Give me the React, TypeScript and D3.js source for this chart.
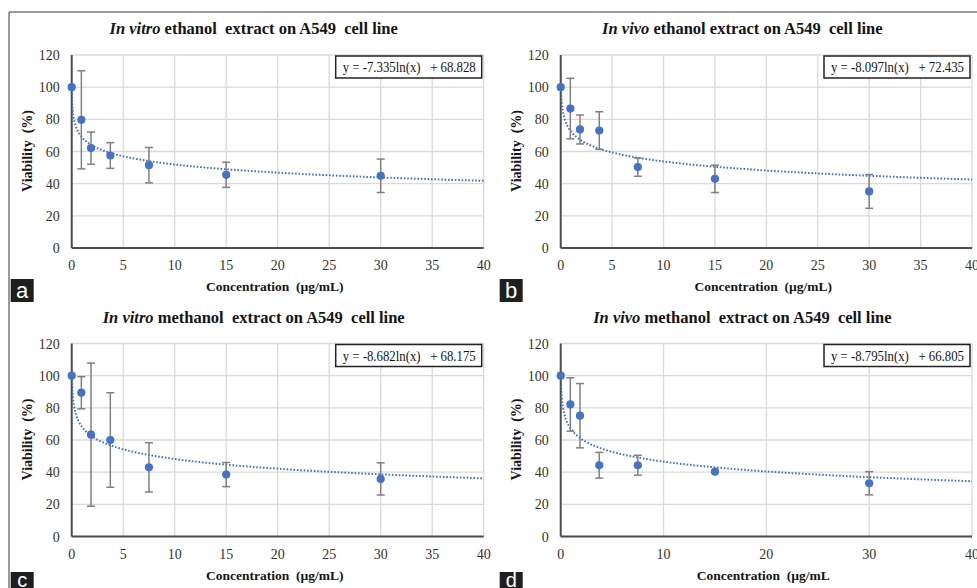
import { useMemo } from "react";
import * as d3 from "d3";

// concentrations (µg/mL) shared by all four assays
const concentrations = [0, 0.9375, 1.875, 3.75, 7.5, 15, 30];

const vitroEthanolMean = [100, 79.7, 62.1, 57.5, 51.5, 45.5, 44.9];
const vitroEthanolErr = [0, 30.5, 10, 8, 11, 7.8, 10.4];

const vivoEthanolMean = [100, 86.7, 73.7, 73, 50.3, 43, 35.2];
const vivoEthanolErr = [0, 18.8, 9, 11.7, 5.7, 8.5, 10.5];

const vitroMethanolMean = [100, 89.4, 63.3, 60, 43, 38.5, 35.8];
const vitroMethanolErr = [0, 10, 44.5, 29.4, 15.3, 7.5, 10];

const vivoMethanolMean = [100, 82.1, 75.1, 44.3, 44.3, 40.3, 33.1];
const vivoMethanolErr = [0, 16.6, 20, 8, 6.2, 0, 7.2];

// log trendline coefficients y = a ln(x) + b, as printed on each chart
const trendA = [-7.335, -8.097, -8.682, -8.795];
const trendB = [68.828, 72.435, 68.175, 66.805];
const trendLabels = [
  "y = -7.335ln(x)   + 68.828",
  "y = -8.097ln(x)   + 72.435",
  "y = -8.682ln(x)   + 68.175",
  "y = -8.795ln(x)   + 66.805",
];

const titleItalic = ["In vitro", "In vivo", "In vitro", "In vivo"];
const titleRest = [
  " ethanol  extract on A549  cell line",
  " ethanol extract on A549  cell line",
  " methanol  extract on A549  cell line",
  " methanol  extract on A549  cell line",
];
const xLabels = [
  "Concentration  (µg/mL)",
  "Concentration  (µg/mL)",
  "Concentration  (µg/mL)",
  "Concentration  (µg/mL",
];
const panelLetters = ["a", "b", "c", "d"];

const xTicksFine = [0, 5, 10, 15, 20, 25, 30, 35, 40];
const xTicksCoarse = [0, 10, 20, 30, 40];
const yTicks = [0, 20, 40, 60, 80, 100, 120];

const BLUE = "#4472C4";
const SERIF = "'Liberation Serif', 'Times New Roman', serif";

const Panel = ({ id, left, top, width, height, means, errs, xTicks, letterTop }) => {
  const xScale = d3.scaleLinear().domain([0, 40]).range([left, left + width]);
  const yScale = d3.scaleLinear().domain([0, 120]).range([top + height, top]);

  const trendPath = useMemo(() => {
    const xs = d3.range(0, 401).map((i) => 0.01 * Math.pow(4000, i / 400));
    return d3
      .line()
      .x((d) => xScale(d))
      .y((d) => yScale(trendA[id] * Math.log(d) + trendB[id]))(xs);
  }, [id, left, top]);

  const points = concentrations.map((c, i) => ({ x: c, y: means[i], e: errs[i] }));
  const clipId = `clip-${id}`;

  return (
    <g>
      <clipPath id={clipId}>
        <rect x={left} y={top - 2} width={width + 2} height={height + 2} />
      </clipPath>
      {/* title */}
      <text
        x={left + width / 2 - 24}
        y={top - 21}
        textAnchor="middle"
        fontFamily={SERIF}
        fontWeight="bold"
        fontSize={16.5}
        fill="#151515"
        style={{ whiteSpace: "pre" }}
      >
        <tspan fontStyle="italic">{titleItalic[id]}</tspan>
        {titleRest[id]}
      </text>
      {/* grid */}
      {yTicks.map((t) => (
        <line key={`gy${t}`} x1={left} x2={left + width} y1={yScale(t)} y2={yScale(t)} stroke="#dadada" strokeWidth={1.3} />
      ))}
      {xTicks.map((t) => (
        <line key={`gx${t}`} x1={xScale(t)} x2={xScale(t)} y1={top} y2={top + height} stroke="#dadada" strokeWidth={1.3} />
      ))}
      {/* axes */}
      <line x1={left} x2={left} y1={top} y2={top + height} stroke="#4d4d4d" strokeWidth={2} />
      <line x1={left} x2={left + width} y1={top + height} y2={top + height} stroke="#4d4d4d" strokeWidth={2} />
      {yTicks.map((t) => (
        <text key={`ty${t}`} x={left - 12} y={yScale(t) + 5} textAnchor="end" fontFamily={SERIF} fontSize={14} fill="#333">
          {t}
        </text>
      ))}
      {xTicks.map((t) => (
        <text key={`tx${t}`} x={xScale(t)} y={top + height + 22} textAnchor="middle" fontFamily={SERIF} fontSize={14} fill="#333">
          {t}
        </text>
      ))}
      <text
        x={left + width / 2 - 3}
        y={top + height + 43}
        textAnchor="middle"
        fontFamily={SERIF}
        fontWeight="bold"
        fontSize={13.5}
        fill="#151515"
        style={{ whiteSpace: "pre" }}
      >
        {xLabels[id]}
      </text>
      <text
        transform={`translate(${left - 40},${top + 96}) rotate(-90)`}
        textAnchor="middle"
        fontFamily={SERIF}
        fontWeight="bold"
        fontSize={14}
        fill="#151515"
        style={{ whiteSpace: "pre" }}
      >
        {"Viability  (%)"}
      </text>
      {/* trendline */}
      <path d={trendPath} fill="none" stroke={BLUE} strokeWidth={2} strokeDasharray="1.6 1.8" clipPath={`url(#${clipId})`} />
      {/* error bars */}
      {points
        .filter((p) => p.e > 0)
        .map((p, i) => (
          <g key={`e${i}`} stroke="#808080" strokeWidth={1.5}>
            <line x1={xScale(p.x)} x2={xScale(p.x)} y1={yScale(p.y + p.e)} y2={yScale(p.y - p.e)} />
            <line x1={xScale(p.x) - 4} x2={xScale(p.x) + 4} y1={yScale(p.y + p.e)} y2={yScale(p.y + p.e)} />
            <line x1={xScale(p.x) - 4} x2={xScale(p.x) + 4} y1={yScale(p.y - p.e)} y2={yScale(p.y - p.e)} />
          </g>
        ))}
      {/* points */}
      {points.map((p, i) => (
        <circle key={`p${i}`} cx={xScale(p.x)} cy={yScale(p.y)} r={4.1} fill={BLUE} />
      ))}
      {/* equation box */}
      <rect x={left + width - 148} y={top + 1} width={146} height={22} fill="#fff" stroke="#222" strokeWidth={1.5} />
      <text
        x={left + width - 141}
        y={top + 17}
        textLength={133}
        lengthAdjust="spacingAndGlyphs"
        fontFamily={SERIF}
        fontSize={14}
        fill="#151515"
        style={{ whiteSpace: "pre" }}
      >
        {trendLabels[id]}
      </text>
      {/* panel letter */}
      <rect x={left - 61} y={letterTop} width={23} height={23} fill="#1f1f1f" />
      <text
        x={left - 49.5}
        y={Math.min(letterTop + 19, 587)}
        textAnchor="middle"
        fontFamily="'Liberation Sans', Arial, sans-serif"
        fontSize={id < 2 ? 22 : 20}
        fill="#fff"
      >
        {panelLetters[id]}
      </text>
    </g>
  );
};

export default function App() {
  const W = 977;
  const H = 588;
  const plotW = 412;
  const plotH = 193;
  return (
    <div style={{ position: "fixed", left: 0, top: 0 }}>
      <svg width={W} height={H} style={{ display: "block", background: "#fff" }}>
        <rect x={0} y={0} width={W} height={H} fill="#fff" />
        <line x1={9} x2={W} y1={12} y2={12} stroke="#7a7a7a" strokeWidth={1.5} />
        <line x1={9} x2={9} y1={12} y2={H} stroke="#7a7a7a" strokeWidth={1.5} />
        <Panel id={0} left={71.7} top={55} width={plotW} height={plotH} means={vitroEthanolMean} errs={vitroEthanolErr} xTicks={xTicksFine} letterTop={279} />
        <Panel id={1} left={560.7} top={55} width={plotW - 0.7} height={plotH} means={vivoEthanolMean} errs={vivoEthanolErr} xTicks={xTicksFine} letterTop={279} />
        <Panel id={2} left={71.7} top={343.5} width={plotW} height={plotH} means={vitroMethanolMean} errs={vitroMethanolErr} xTicks={xTicksFine} letterTop={572} />
        <Panel id={3} left={560.7} top={343.5} width={plotW - 0.7} height={plotH} means={vivoMethanolMean} errs={vivoMethanolErr} xTicks={xTicksCoarse} letterTop={572} />
      </svg>
    </div>
  );
}
